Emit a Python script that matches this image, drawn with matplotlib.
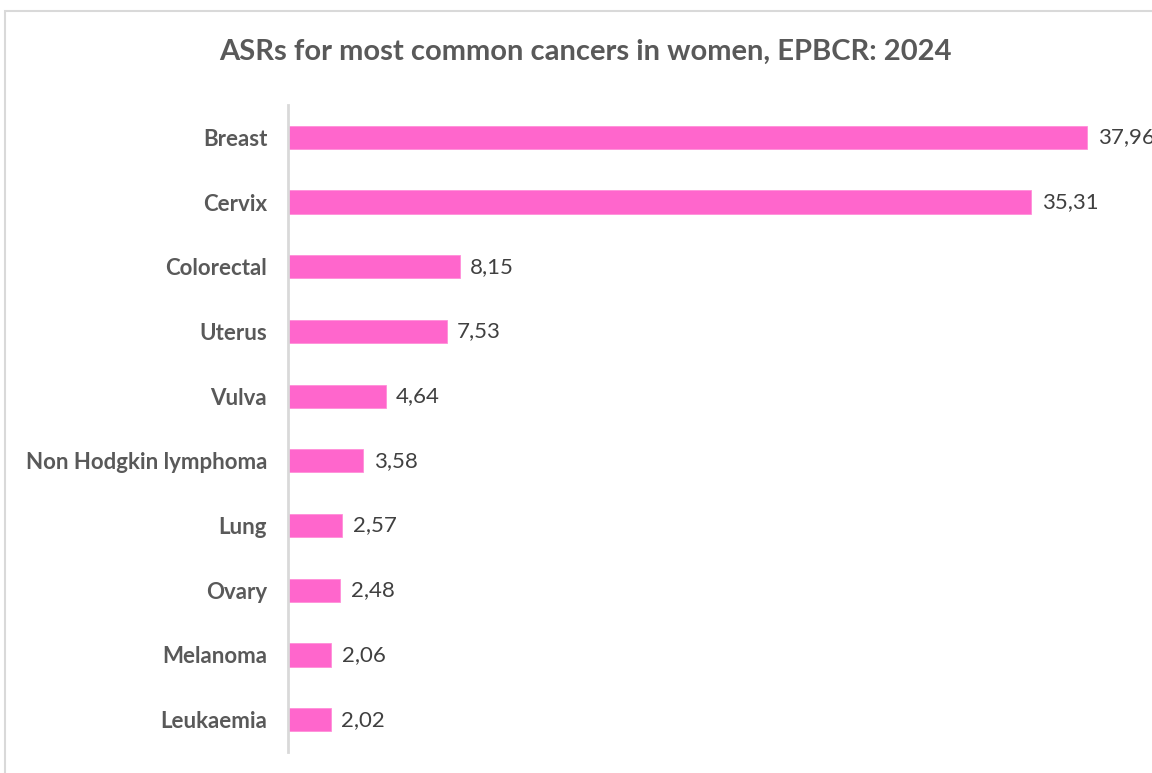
import matplotlib
matplotlib.use('Agg')
import matplotlib.pyplot as plt
from matplotlib.patches import Rectangle

plt.rcParams['font.family'] = ['Lato', 'DejaVu Sans']

cancers = ["Breast", "Cervix", "Colorectal", "Uterus", "Vulva",
           "Non Hodgkin lymphoma", "Lung", "Ovary", "Melanoma", "Leukaemia"]
asr = [37.96, 35.31, 8.15, 7.53, 4.64, 3.58, 2.57, 2.48, 2.06, 2.02]

title = "ASRs for most common cancers in women, EPBCR: 2024"
pink = "#FF66CC"
grey_txt = "#595959"

fig = plt.figure(figsize=(11.52, 7.73), dpi=100)

# chart frame (cropped at right/bottom in the reference)
fig.patches.append(Rectangle((5/1152, -0.1), 1.2, 1 - 11/773 + 0.1,
                             transform=fig.transFigure, fill=False,
                             edgecolor="#d9d9d9", linewidth=1.5))

ax = fig.add_axes([288/1152, 21/773, 1 - 288/1152, (752 - 105)/773])

ypos = list(range(len(cancers)))
ax.barh(ypos, asr, height=0.36, color=pink, edgecolor="#ff8fd9", linewidth=0.6)
ax.set_ylim(len(cancers) - 0.5, -0.5)
ax.set_xlim(0, 864/21.05)

for y, v in zip(ypos, asr):
    ax.text(v + 0.5, y, ("%.2f" % v).replace(".", ","), va="center", ha="left",
            fontsize=16, color="#404040", clip_on=False)

ax.set_yticks(ypos)
ax.set_yticklabels(cancers, fontsize=16, fontweight="bold", color=grey_txt)
ax.tick_params(axis="y", length=0, pad=15)
ax.set_xticks([])
for s in ["top", "right", "bottom"]:
    ax.spines[s].set_visible(False)
ax.spines["left"].set_color("#d9d9d9")
ax.spines["left"].set_linewidth(2)

fig.text(585/1152, 1 - 52/773, title, ha="center", va="center",
         fontsize=21, fontweight="bold", color=grey_txt)

plt.savefig("out.png", dpi=100)
